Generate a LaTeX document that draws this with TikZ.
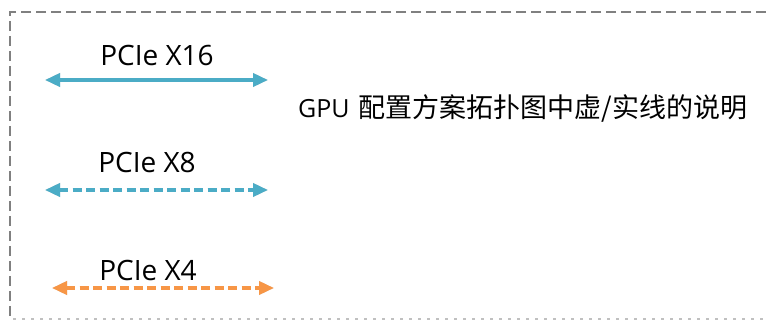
\documentclass[tikz,border=0pt]{standalone}
\usepackage{fontspec}
\setmainfont{Open Sans}
\newfontfamily\cjk{Noto Sans CJK SC}
\usetikzlibrary{arrows.meta}
\definecolor{pciblue}{RGB}{75,172,198}
\definecolor{pciorange}{RGB}{247,150,70}
\definecolor{framegray}{RGB}{128,128,128}
\tikzset{
  link/.style={line width=3.5pt, {Triangle[length=15pt,width=13pt]}-{Triangle[length=15pt,width=13pt]}},
  linkshadow/.style={link, draw=black, opacity=0.15, shift={(1.5pt,-3pt)}},
  dashlink/.style={dash pattern=on 9pt off 4.5pt},
  lbl/.style={font=\fontsize{28}{32}\selectfont, inner sep=0pt, text=black, anchor=base},
  frame/.style={draw=framegray, line width=2.6pt, dash pattern=on 10pt off 5pt}
}
\begin{document}
\begin{tikzpicture}[x=1pt,y=-1pt]
\useasboundingbox (0,0) rectangle (766,320);
% frame
\coordinate (fTL) at (10,12);
\coordinate (fTR) at (766,12);
\coordinate (fBL) at (10,320);
\draw[frame] (fTR) -- (fTL) -- (fBL);
\draw[framegray!50, line width=1.5pt, dash pattern=on 3pt off 6pt] (13,319) -- (766,319);
% PCIe X16
\node[lbl] (l16) at (157,66) {PCIe X16};
\coordinate (a1) at (45,80);
\coordinate (b1) at (268,80);
\draw[linkshadow, draw=black] (a1) -- (b1);
\draw[link, pciblue] (a1) -- (b1);
% PCIe X8
\node[lbl] (l8) at (147,173) {PCIe X8};
\coordinate (a2) at (45,190);
\coordinate (b2) at (268,190);
\draw[linkshadow, dashlink] (a2) -- (b2);
\draw[link, dashlink, pciblue] (a2) -- (b2);
% PCIe X4
\node[lbl] (l4) at (148,281) {PCIe X4};
\coordinate (a3) at (52,288);
\coordinate (b3) at (274,288);
\draw[linkshadow, dashlink] (a3) -- (b3);
\draw[link, dashlink, pciorange] (a3) -- (b3);
% title
\node[inner sep=0pt, anchor=base west] (title) at (298,118) {\fontsize{25}{28}\selectfont GPU\hspace{9pt}{\cjk\fontsize{27}{30}\selectfont 配置方案拓扑图中虚/实线的说明}};
\end{tikzpicture}
\end{document}
